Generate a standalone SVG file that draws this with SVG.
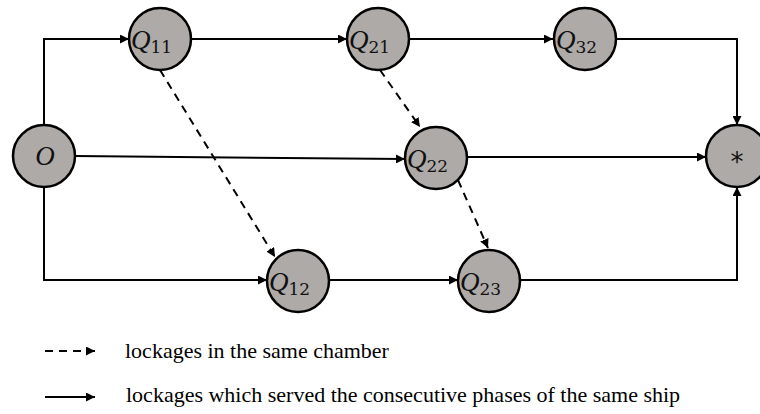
<svg xmlns="http://www.w3.org/2000/svg" width="760" height="414" viewBox="0 0 760 414">
  <style>
    .node circle { fill: #aeaaa8; stroke: #000; stroke-width: 2.5; }
    .q { font-family: "Liberation Serif", "DejaVu Serif", serif; font-style: italic; font-size: 27px; fill: #111; }
    .sub { font-family: "DejaVu Serif", "Liberation Serif", serif; font-style: normal; font-size: 17px; }
    .edge { fill: none; stroke: #000; stroke-width: 2; }
    .dash { stroke-dasharray: 8 6; }
    .legend { font-family: "Liberation Serif", "Times New Roman", serif; font-size: 22px; fill: #000; }
  </style>
  <defs>
    <marker id="arrow" viewBox="0 0 10 10" refX="10" refY="5" markerWidth="4.5" markerHeight="4.5" orient="auto" markerUnits="strokeWidth">
      <path d="M0,0 L10,5 L0,10 z" fill="#000"/>
    </marker>
  </defs>

  <g id="connectors">
    <!-- solid: consecutive phases -->
    <path class="edge" d="M44,125 V39 H129" marker-end="url(#arrow)"/>
    <path class="edge" d="M190,39 H347" marker-end="url(#arrow)"/>
    <path class="edge" d="M410,39 H553" marker-end="url(#arrow)"/>
    <path class="edge" d="M616,39 H737 V125" marker-end="url(#arrow)"/>
    <path class="edge" d="M75,156 L405,159" marker-end="url(#arrow)"/>
    <path class="edge" d="M467,157 H706" marker-end="url(#arrow)"/>
    <path class="edge" d="M44,187 V280 H267" marker-end="url(#arrow)"/>
    <path class="edge" d="M329,280 H458" marker-end="url(#arrow)"/>
    <path class="edge" d="M520,280 H737 V187" marker-end="url(#arrow)"/>
    <!-- dashed: same chamber -->
    <path class="edge dash" d="M160,70 L275,257" marker-end="url(#arrow)"/>
    <path class="edge dash" d="M380,70 L420,127" marker-end="url(#arrow)"/>
    <path class="edge dash" d="M458,180 L488,248" marker-end="url(#arrow)"/>
  </g>

  <g id="O" class="node">
    <circle cx="44" cy="156" r="31"/>
    <text class="q" x="45" y="165" text-anchor="middle">O</text>
  </g>
  <g id="Q11" class="node">
    <circle cx="160" cy="39" r="31"/>
    <text class="q" x="131" y="49">Q<tspan class="sub" dy="4">11</tspan></text>
  </g>
  <g id="Q21" class="node">
    <circle cx="378" cy="39" r="31"/>
    <text class="q" x="349" y="49">Q<tspan class="sub" dy="4">21</tspan></text>
  </g>
  <g id="Q32" class="node">
    <circle cx="585" cy="39" r="31"/>
    <text class="q" x="556" y="49">Q<tspan class="sub" dy="4">32</tspan></text>
  </g>
  <g id="Q22" class="node">
    <circle cx="436" cy="158" r="31"/>
    <text class="q" x="407" y="168">Q<tspan class="sub" dy="4">22</tspan></text>
  </g>
  <g id="Q12" class="node">
    <circle cx="298" cy="281" r="31"/>
    <text class="q" x="269" y="291">Q<tspan class="sub" dy="4">12</tspan></text>
  </g>
  <g id="Q23" class="node">
    <circle cx="489" cy="281" r="31"/>
    <text class="q" x="460" y="291">Q<tspan class="sub" dy="4">23</tspan></text>
  </g>
  <g id="end" class="node">
    <circle cx="737" cy="156" r="31"/>
    <text x="737" y="171" text-anchor="middle" font-family="DejaVu Sans, sans-serif" font-size="26" fill="#111">*</text>
  </g>

  <g id="legend">
    <path class="edge dash" d="M45,351 H95" marker-end="url(#arrow)"/>
    <text class="legend" x="125" y="358">lockages in the same chamber</text>
    <path class="edge" d="M45,397 H95" marker-end="url(#arrow)"/>
    <text class="legend" x="126" y="402">lockages which served the consecutive phases of the same ship</text>
  </g>
</svg>
